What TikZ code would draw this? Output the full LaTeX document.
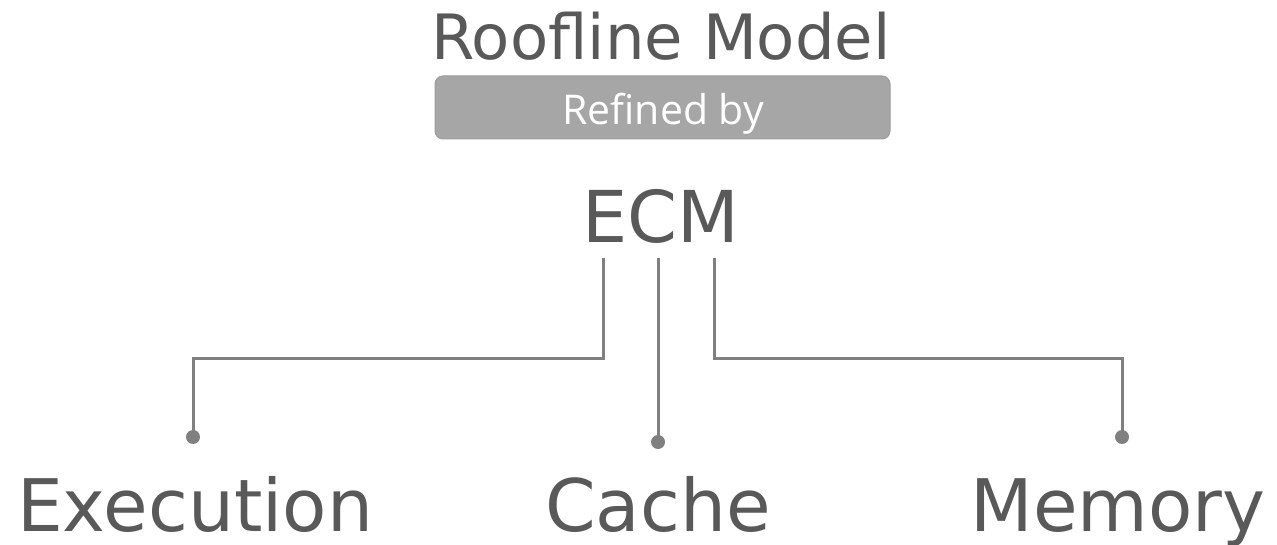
\documentclass[tikz,border=0pt]{standalone}
\usepackage{fontspec}
\setmainfont{DejaVu Sans}
\newfontfamily\tagfont{Open Sans}
\definecolor{inkgray}{HTML}{595959}
\definecolor{wiregray}{HTML}{808080}
\definecolor{tagfill}{HTML}{A6A6A6}
\definecolor{tagline}{HTML}{9C9C9C}
\tikzset{
  label/.style={text=inkgray, inner sep=0pt, anchor=base, font=\fontsize{72.5}{72.5}\selectfont},
  title/.style={text=inkgray, inner sep=0pt, anchor=base, font=\fontsize{62.5}{62.5}\selectfont},
  tagbox/.style={fill=tagfill, draw=tagline, line width=1pt, rounded corners=8pt},
  wire/.style={draw=wiregray, line width=3pt},
  endpoint/.style={circle, fill=wiregray, inner sep=0pt, minimum size=14pt}
}
\begin{document}
\begin{tikzpicture}[x=1pt, y=-1pt]
  \useasboundingbox (0,0) rectangle (1277,545);

  % header: model name and the "Refined by" tag
  \node[title] (roof) at (661,60) {Roofline Model};
  \draw[tagbox] (435,76) rectangle (890,139);
  \node[text=white, inner sep=0pt, anchor=base, font=\tagfont\fontsize{41}{41}\selectfont] (tag) at (663,125) {Refined by};

  % central model
  \node[label, font=\fontsize{71.5}{71.5}\selectfont] (ecm) at (661,243) {ECM};

  % three components
  \node[label] (exe) at (195,531) {Execution};
  \node[label] (cache) at (658,531) {Cache};
  \node[label] (mem) at (1118,531) {Memory};

  % branch start points under ECM and the dots above each label
  \coordinate (s1) at (603,258);
  \coordinate (s2) at (658,258);
  \coordinate (s3) at (714,258);
  \node[endpoint] (d1) at (193,437) {};
  \node[endpoint] (d2) at (658,442) {};
  \node[endpoint] (d3) at (1122,437) {};

  % connectors
  \draw[wire] (s1) -- ++(0,100) -| (d1.center);
  \draw[wire] (s2) -- (d2.center);
  \draw[wire] (s3) -- ++(0,100) -| (d3.center);
\end{tikzpicture}
\end{document}
